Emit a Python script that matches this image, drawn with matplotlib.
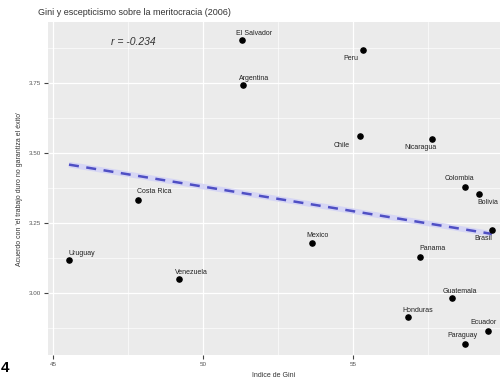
import numpy as np
import matplotlib
matplotlib.use('Agg')
import matplotlib.pyplot as plt

plt.rcParams['font.family'] = ['Liberation Sans', 'DejaVu Sans']

# Indice de Gini y acuerdo medio por pais (2006)
paises = ['El Salvador', 'Peru', 'Argentina', 'Chile', 'Nicaragua', 'Colombia',
          'Bolivia', 'Brasil', 'Costa Rica', 'Mexico', 'Panama', 'Uruguay',
          'Venezuela', 'Guatemala', 'Honduras', 'Ecuador', 'Paraguay']
gini = [51.3, 55.33, 51.33, 55.23, 57.63, 58.73, 59.2, 59.63, 47.83, 53.63,
        57.23, 45.53, 49.2, 58.3, 56.83, 59.5, 58.73]
acuerdo = [3.904, 3.868, 3.743, 3.561, 3.55, 3.379, 3.354, 3.225, 3.332, 3.179,
           3.129, 3.118, 3.05, 2.982, 2.914, 2.864, 2.818]
x_ticks = [45, 50, 55]
y_ticks = [3.00, 3.25, 3.50, 3.75]
r_texto = 'r = -0.234'

# desplazamiento de cada etiqueta (en puntos)
offsets = {'El Salvador': (9, 5), 'Peru': (-9, -6), 'Argentina': (8, 5),
           'Chile': (-13, -7), 'Nicaragua': (-8, -6), 'Colombia': (-4, 6),
           'Bolivia': (6, -6), 'Brasil': (-6, -6), 'Costa Rica': (12, 6),
           'Mexico': (4, 5), 'Panama': (9, 6), 'Uruguay': (9, 5),
           'Venezuela': (9, 5), 'Guatemala': (6, 5), 'Honduras': (7, 5),
           'Ecuador': (-3, 6), 'Paraguay': (-2, 6)}

fig = plt.figure(figsize=(5.02, 3.80), dpi=100)
ax = fig.add_axes([0.0956, 0.066, 0.9004, 0.876])
ax.set_facecolor('#EBEBEB')

ax.set_xlim(44.83, 59.9)
ax.set_ylim(2.779, 3.968)
ax.set_xticks(x_ticks)
ax.set_yticks(y_ticks)
ax.set_xticks([47.5, 52.5, 57.5], minor=True)
ax.set_yticks([2.875, 3.125, 3.375, 3.625, 3.875], minor=True)
ax.grid(which='major', color='white', linewidth=0.9)
ax.grid(which='minor', color='white', linewidth=0.45)
ax.set_axisbelow(True)
for s in ax.spines.values():
    s.set_visible(False)
ax.tick_params(which='major', length=3, color='#444444', labelsize=4.5,
               labelcolor='#555555', pad=2)
ax.tick_params(which='minor', length=0)
ax.set_yticklabels(['%.2f' % v for v in y_ticks])

# recta de regresion
g = np.array(gini)
a = np.array(acuerdo)
m, b = np.polyfit(g, a, 1)
xs = np.array([g.min(), g.max()])
ax.plot(xs, m * xs + b, color='#D6D6F4', linewidth=4, solid_capstyle='butt', zorder=2)
ax.plot(xs, m * xs + b, color='#4F4FC4', linewidth=1.8, linestyle=(0, (4, 3)), zorder=3)

ax.scatter(gini, acuerdo, s=14, color='black', zorder=4)
for p, x, y in zip(paises, gini, acuerdo):
    ax.annotate(p, (x, y), xytext=offsets[p], textcoords='offset points',
                ha='center', va='center', fontsize=5, color='#222222', zorder=5)

ax.text(47.67, 3.896, r_texto, fontsize=7.5, color='#333333', ha='center', va='center',
        style='italic')

ax.set_xlabel('Indice de Gini', fontsize=5, color='#333333', labelpad=4)
ax.set_ylabel("Acuerdo con 'el trabajo duro no garantiza el éxito'", fontsize=5,
              color='#333333', labelpad=4)
fig.text(0.075, 0.968, 'Gini y escepticismo sobre la meritocracia (2006)', fontsize=6.5,
         color='#333333', ha='left', va='center')
fig.text(0.002, 0.012, '4', fontsize=11, fontweight='bold', ha='left', va='bottom')

fig.savefig('out.png', dpi=100)
